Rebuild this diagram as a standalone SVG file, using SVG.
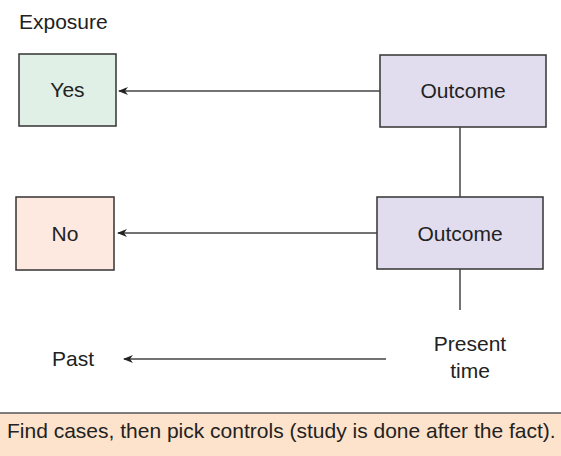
<svg xmlns="http://www.w3.org/2000/svg" width="561" height="456" viewBox="0 0 561 456">
<style>
text{font-family:"Liberation Sans",Arial,sans-serif;font-size:21px;fill:#222}
.box{stroke:#333;stroke-width:1.5}
.ln{stroke:#444;stroke-width:1.5;fill:none}
</style>
<defs>
<marker id="ah" viewBox="0 0 10 10" refX="9" refY="5" markerWidth="10" markerHeight="10" markerUnits="userSpaceOnUse" orient="auto">
<path d="M10,5 L0,1 L3,5 L0,9 Z" fill="#222"/>
</marker>
</defs>
<rect width="561" height="456" fill="#fff"/>
<text x="19" y="29">Exposure</text>
<g id="yes"><rect class="box" x="19" y="54" width="97" height="72" fill="#e1f0e6"/><text x="67.5" y="97" text-anchor="middle">Yes</text></g>
<g id="no"><rect class="box" x="16" y="197" width="98" height="73" fill="#fde9df"/><text x="65" y="241" text-anchor="middle">No</text></g>
<g id="outcome1"><rect class="box" x="380" y="55" width="166" height="72" fill="#e1ddef"/><text x="463" y="98" text-anchor="middle">Outcome</text></g>
<g id="outcome2"><rect class="box" x="377" y="197" width="166" height="72" fill="#e1ddef"/><text x="460" y="241" text-anchor="middle">Outcome</text></g>
<g id="past"><text x="73" y="366" text-anchor="middle">Past</text></g>
<g id="present"><text x="470" y="351" text-anchor="middle">Present</text><text x="470" y="378" text-anchor="middle">time</text></g>
<g id="connectors">
<line class="ln" x1="380" y1="91" x2="119" y2="91" marker-end="url(#ah)"/>
<line class="ln" x1="377" y1="233" x2="118" y2="233" marker-end="url(#ah)"/>
<line class="ln" x1="386" y1="359" x2="124" y2="359" marker-end="url(#ah)"/>
<line class="ln" x1="460" y1="127" x2="460" y2="197"/>
<line class="ln" x1="460" y1="269" x2="460" y2="310"/>
</g>
<g id="note">
<rect x="0" y="413" width="561" height="43" fill="#fde3cb"/>
<line x1="0" y1="413" x2="561" y2="413" stroke="#555" stroke-width="1.5"/>
<text x="7" y="438">Find cases, then pick controls (study is done after the fact).</text>
</g>
</svg>
